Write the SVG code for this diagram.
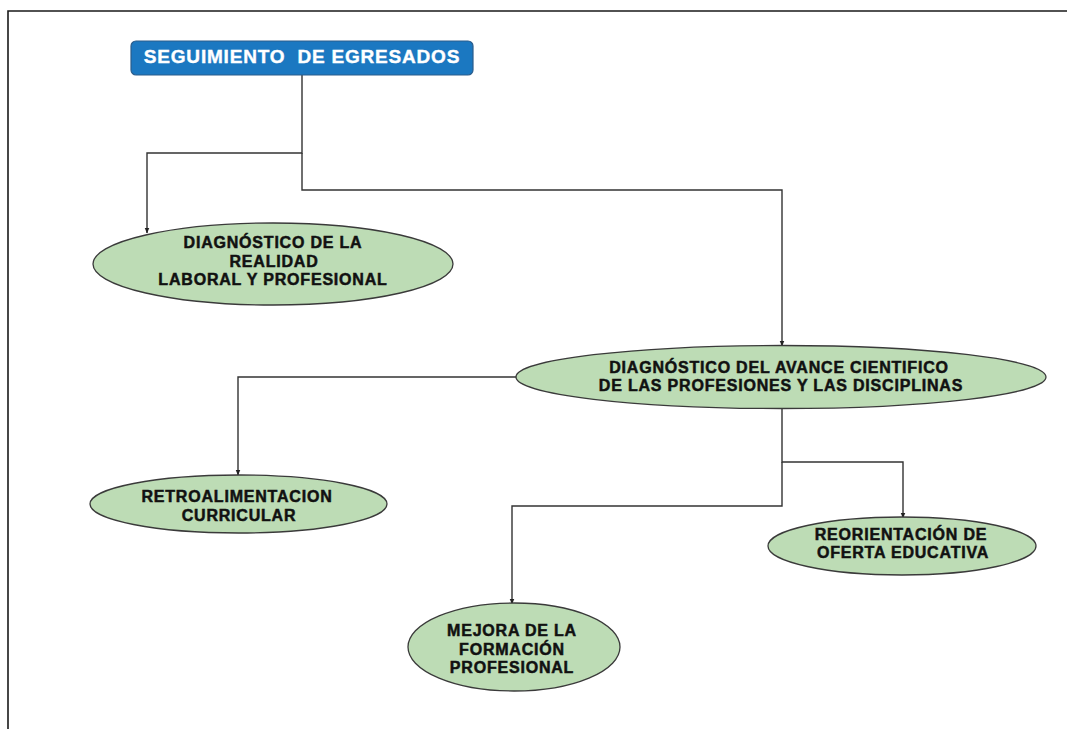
<svg xmlns="http://www.w3.org/2000/svg" width="1067" height="729" viewBox="0 0 1067 729">
<style>
.node ellipse{fill:#bddcb5;stroke:#3a3a3a;stroke-width:1.3}
.lbl{font-family:"Liberation Sans",Arial,sans-serif;font-weight:bold;font-size:16px;letter-spacing:0.8px;fill:#111;stroke:#111;stroke-width:0.5;text-anchor:middle}
.title{font-family:"Liberation Sans",Arial,sans-serif;font-weight:bold;font-size:19px;letter-spacing:0.8px;fill:#fff;stroke:#fff;stroke-width:0.4;text-anchor:middle;white-space:pre}
.conn path{fill:none;stroke:#333;stroke-width:1.4}
</style>
<defs>
<marker id="arr" viewBox="0 0 10 10" refX="9" refY="5" markerWidth="6" markerHeight="6" orient="auto" markerUnits="userSpaceOnUse">
<path d="M0,1 L10,5 L0,9 z" fill="#222"/>
</marker>
</defs>
<rect width="1067" height="729" fill="#fff"/>
<path d="M8,729 V11 H1067" fill="none" stroke="#1a1a1a" stroke-width="1.6"/>
<g class="conn">
<path d="M302,75 V153 H147 V233" marker-end="url(#arr)"/>
<path d="M302,153 V190 H782 V346" marker-end="url(#arr)"/>
<path d="M517,377 H238 V475" marker-end="url(#arr)"/>
<path d="M782,408 V462 H903 V518" marker-end="url(#arr)"/>
<path d="M782,462 V506 H512 V604" marker-end="url(#arr)"/>
</g>
<g id="n-seguimiento">
<rect x="131" y="41" width="342" height="34" rx="5" fill="#1b78c1" stroke="#2b5d8c" stroke-width="1.2"/>
<text class="title" x="302" y="63" xml:space="preserve">SEGUIMIENTO  DE EGRESADOS</text>
</g>
<g id="n-realidad" class="node">
<ellipse cx="273" cy="264" rx="180" ry="41"/>
<text class="lbl" x="273" y="248">DIAGNÓSTICO DE LA</text>
<text class="lbl" x="274" y="267">REALIDAD</text>
<text class="lbl" x="273" y="285">LABORAL Y PROFESIONAL</text>
</g>
<g id="n-avance" class="node">
<ellipse cx="781" cy="377" rx="265" ry="31.5"/>
<text class="lbl" x="779" y="373">DIAGNÓSTICO DEL AVANCE CIENTIFICO</text>
<text class="lbl" x="781" y="391">DE LAS PROFESIONES Y LAS DISCIPLINAS</text>
</g>
<g id="n-retro" class="node">
<ellipse cx="238.5" cy="504" rx="148.5" ry="29"/>
<text class="lbl" x="237" y="502">RETROALIMENTACION</text>
<text class="lbl" x="239" y="521">CURRICULAR</text>
</g>
<g id="n-reorientacion" class="node">
<ellipse cx="902" cy="546" rx="134" ry="29"/>
<text class="lbl" x="901" y="540">REORIENTACIÓN DE</text>
<text class="lbl" x="903" y="558">OFERTA EDUCATIVA</text>
</g>
<g id="n-mejora" class="node">
<ellipse cx="514" cy="647" rx="106" ry="44"/>
<text class="lbl" x="512" y="636">MEJORA DE LA</text>
<text class="lbl" x="512" y="655">FORMACIÓN</text>
<text class="lbl" x="512" y="673">PROFESIONAL</text>
</g>
</svg>
